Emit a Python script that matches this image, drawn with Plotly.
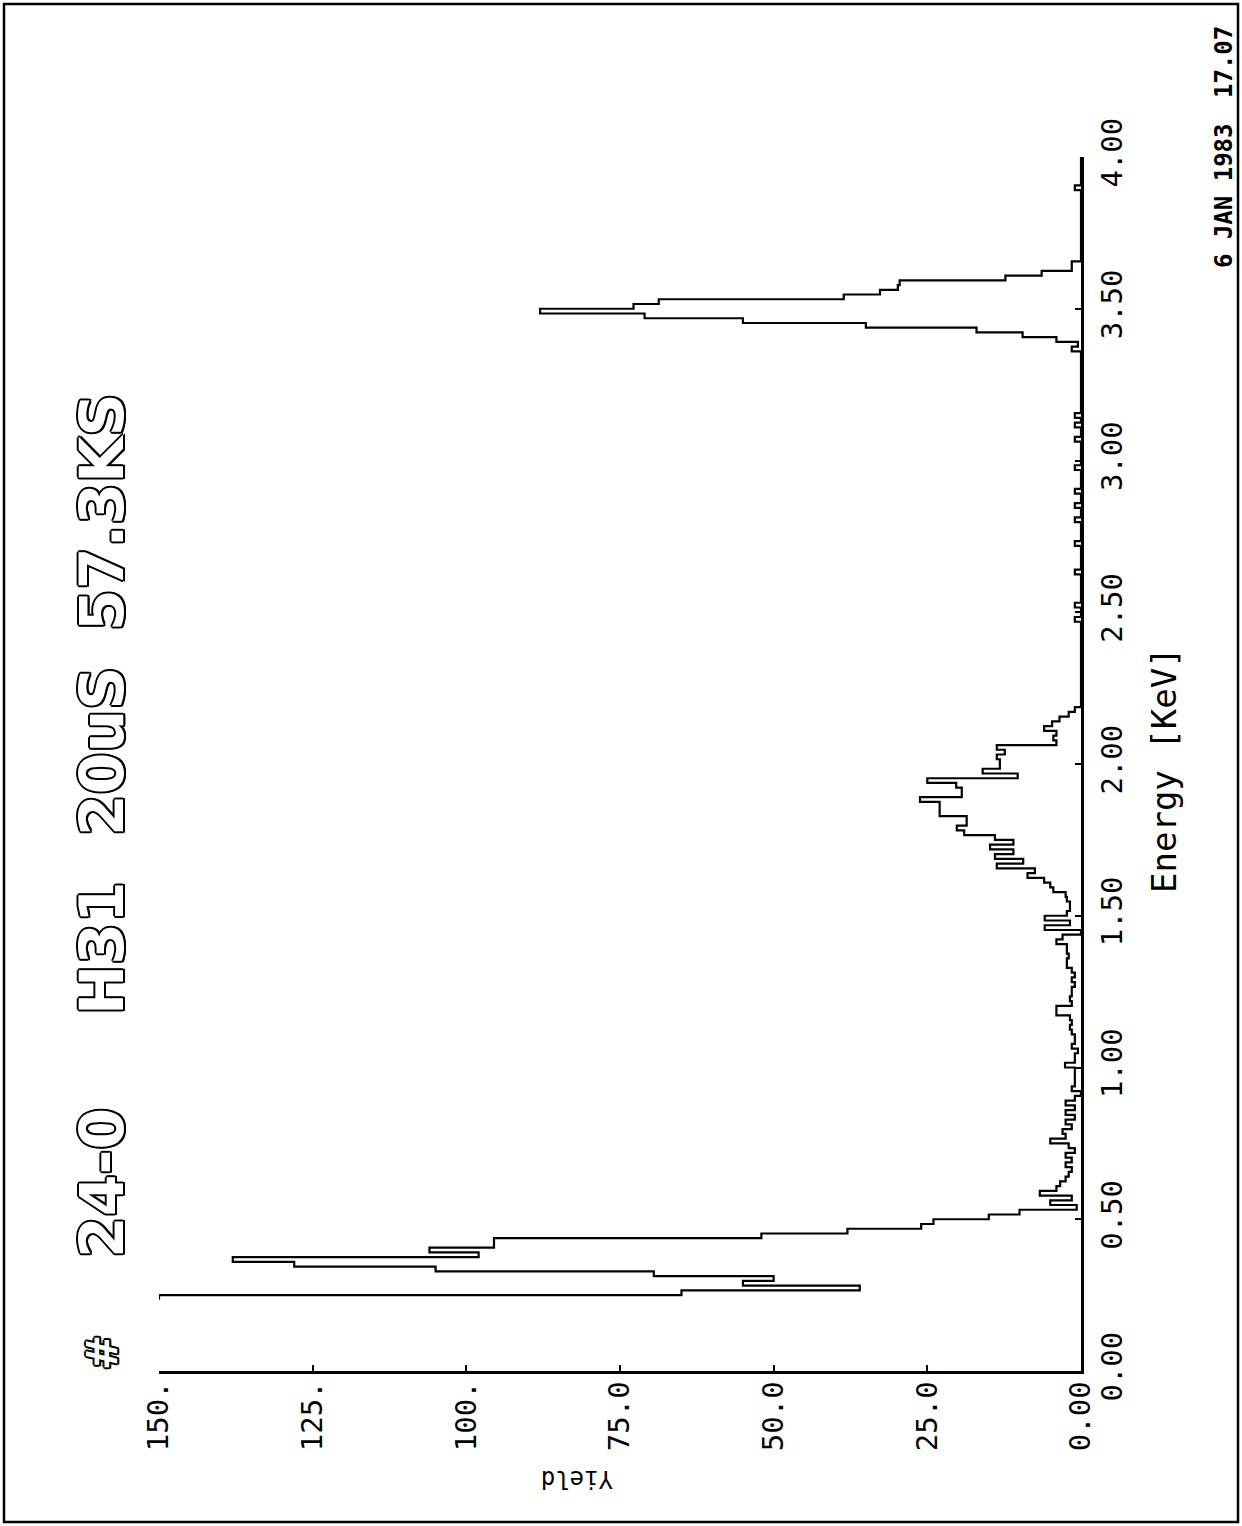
import numpy as np
import plotly.graph_objects as go

# ---------------- data ----------------
bin_width_kev = 4.0 / 256          # channel width
first_channel = 15                 # first plotted channel
# yield per channel, starting at channel 15 (E = 0.234 keV)
yield_counts = [
    150, 65, 36, 55, 50, 69.5, 105, 128, 138, 98,            # 15-24
    106, 95.5, 95.5, 52, 38, 26, 24, 15, 10, 0.7,            # 25-34
    5, 1.5, 6.7, 4, 3.4, 2.5, 2, 1.5, 2.5, 1.5,              # 35-44
    2.5, 1, 2, 5, 2.5, 3, 1.5, 2.5, 1, 2.5,                  # 45-54
    1, 2.5, 1, 0, 1.5, 1, 1, 1, 1, 2.6,                      # 55-64
    1, 1, 0.5, 1.5, 1, 1, 1.5, 1.8, 1.5, 1.8,                # 65-74
    4, 4, 1.5, 1.8, 1.5, 1.5, 1, 1.5, 1, 1.5,                # 75-84
    2.3, 2.3, 2, 2.3, 2.3, 4, 3, 0, 5.9, 1.8,                # 85-94
    5.9, 2.3, 1.8, 1.8, 2.3, 2.5, 4.5, 5, 6, 8.7,            # 95-104
    7.5, 13.7, 9.4, 14, 11, 14.8, 11, 14, 19, 20.2,          # 105-114
    18.6, 18.6, 23, 23, 23, 26.2, 19.4, 19.4, 20.3, 25,      # 115-124
    10.3, 16, 13.2, 13.2, 13.7, 12.4, 13.7, 4, 4.5, 4,       # 125-134
    6, 4.7, 3.5, 2, 1, 0, 0, 0, 0, 0,                        # 135-144
    0, 0, 0, 0, 0, 0, 0, 0, 0, 0,                            # 145-154
    0, 0, 0, 1, 0, 0, 1, 0, 0, 0,                            # 155-164
    0, 0, 0, 1, 0, 0, 0, 0, 0, 1,                            # 165-174
    0, 0, 0, 0, 1, 0, 0, 1, 0, 0,                            # 175-184
    1, 0, 0, 0, 0, 1, 0, 0, 0, 0,                            # 185-194
    0, 1, 0, 0, 1, 0, 1, 0, 0, 0,                            # 195-204
    0, 0, 0, 0, 0, 0, 0, 0, 0, 0,                            # 205-214
    1.5, 0.5, 4, 9.5, 17, 35, 55, 71, 88, 72.8,              # 215-224
    68.7, 38.6, 32.7, 29.8, 29.5, 12.3, 6.4, 1.5, 1.5, 0,    # 225-234
    0, 0, 0, 0, 0, 0, 0, 0, 0, 0,                            # 235-244
    0, 0, 0, 0, 1, 0, 0, 0, 0, 0,                            # 245-254
    0,                                                       # 255
]

yield_ticks = [0, 25, 50, 75, 100, 125, 150]
yield_ticktext = ["0.00", "25.0", "50.0", "75.0", "100.", "125.", "150."]
energy_ticks = [0, 0.5, 1.0, 1.5, 2.0, 2.5, 3.0, 3.5, 4.0]
energy_ticktext = ["0.00", "0.50", "1.00", "1.50", "2.00", "2.50", "3.00", "3.50", "4.00"]

title_parts = ["#", "24-0", "H31", "20uS", "57.3KS"]
x_title = "Energy [KeV]"
y_title = "Yield"
date_text = "6 JAN 1983"
time_text = "17.07"

# ---------------- build step curve ----------------
n = len(yield_counts)
chan_lo = (first_channel + np.arange(n)) * bin_width_kev
energy_pts = list(chan_lo) + [chan_lo[-1] + bin_width_kev]
yield_pts = list(yield_counts) + [yield_counts[-1]]

fig = go.Figure()
fig.add_trace(go.Scatter(
    x=yield_pts, y=energy_pts, mode="lines",
    line=dict(color="black", width=2.2, shape="vh"),
    hoverinfo="skip", showlegend=False,
))

# plot area in pixels: x 159..1081, y 157..1371
L, R, T, B = 159, 1081, 157, 1371
W, H = R - L, B - T


def px(xp):
    return (xp - L) / W


def py(yp):
    return (B - yp) / H


mono = "DejaVu Sans Mono"
axis_common = dict(
    showgrid=False, zeroline=False, showline=True, linecolor="black",
    linewidth=2.5, ticks="inside", ticklen=6, tickwidth=2, tickcolor="black",
    tickangle=-90, tickfont=dict(family=mono, size=29, color="black"),
)

fig.update_layout(
    width=1242, height=1526,
    margin=dict(l=L, r=1242 - R, t=T, b=1526 - B),
    paper_bgcolor="white", plot_bgcolor="white",
    xaxis=dict(range=[150, 0], tickvals=yield_ticks, ticktext=yield_ticktext,
               ticklabelstandoff=-4, **axis_common),
    yaxis=dict(range=[0, 4], tickvals=energy_ticks, ticktext=energy_ticktext,
               side="right", ticklabelstandoff=3, **axis_common),
)

# page frame
fig.add_shape(type="rect", xref="paper", yref="paper",
              x0=px(4), x1=px(1238), y0=py(1522), y1=py(4),
              line=dict(color="black", width=2.5))

outline = ("2px 0 0 #000, -2px 0 0 #000, 0 2px 0 #000, 0 -2px 0 #000, "
           "1.5px 1.5px 0 #000, -1.5px -1.5px 0 #000, 1.5px -1.5px 0 #000, -1.5px 1.5px 0 #000")
title_pos = [(102, 1353, 42), (102, 1183, 60), (102, 948, 60), (102, 752, 60), (102, 512, 60)]
for txt, (xx, yy, sz) in zip(title_parts, title_pos):
    fig.add_annotation(text=txt, xref="paper", yref="paper", x=px(xx), y=py(yy),
                       xanchor="center", yanchor="middle", textangle=-90, showarrow=False,
                       font=dict(family="DejaVu Sans", size=sz, color="white",
                                 weight="bold", shadow=outline))

fig.add_annotation(text=x_title, xref="paper", yref="paper", x=px(1164), y=py(770),
                   xanchor="center", yanchor="middle", textangle=-90, showarrow=False,
                   font=dict(family=mono, size=34, color="black"))
fig.add_annotation(text=y_title, xref="paper", yref="paper", x=px(577), y=py(1479),
                   xanchor="center", yanchor="middle", textangle=180, showarrow=False,
                   font=dict(family=mono, size=24, color="black"))
fig.add_annotation(text=date_text, xref="paper", yref="paper", x=px(1224), y=py(196),
                   xanchor="center", yanchor="middle", textangle=-90, showarrow=False,
                   font=dict(family=mono, size=24, color="black", weight="bold"))
fig.add_annotation(text=time_text, xref="paper", yref="paper", x=px(1224), y=py(62),
                   xanchor="center", yanchor="middle", textangle=-90, showarrow=False,
                   font=dict(family=mono, size=24, color="black", weight="bold"))

fig.write_html("out.html")
